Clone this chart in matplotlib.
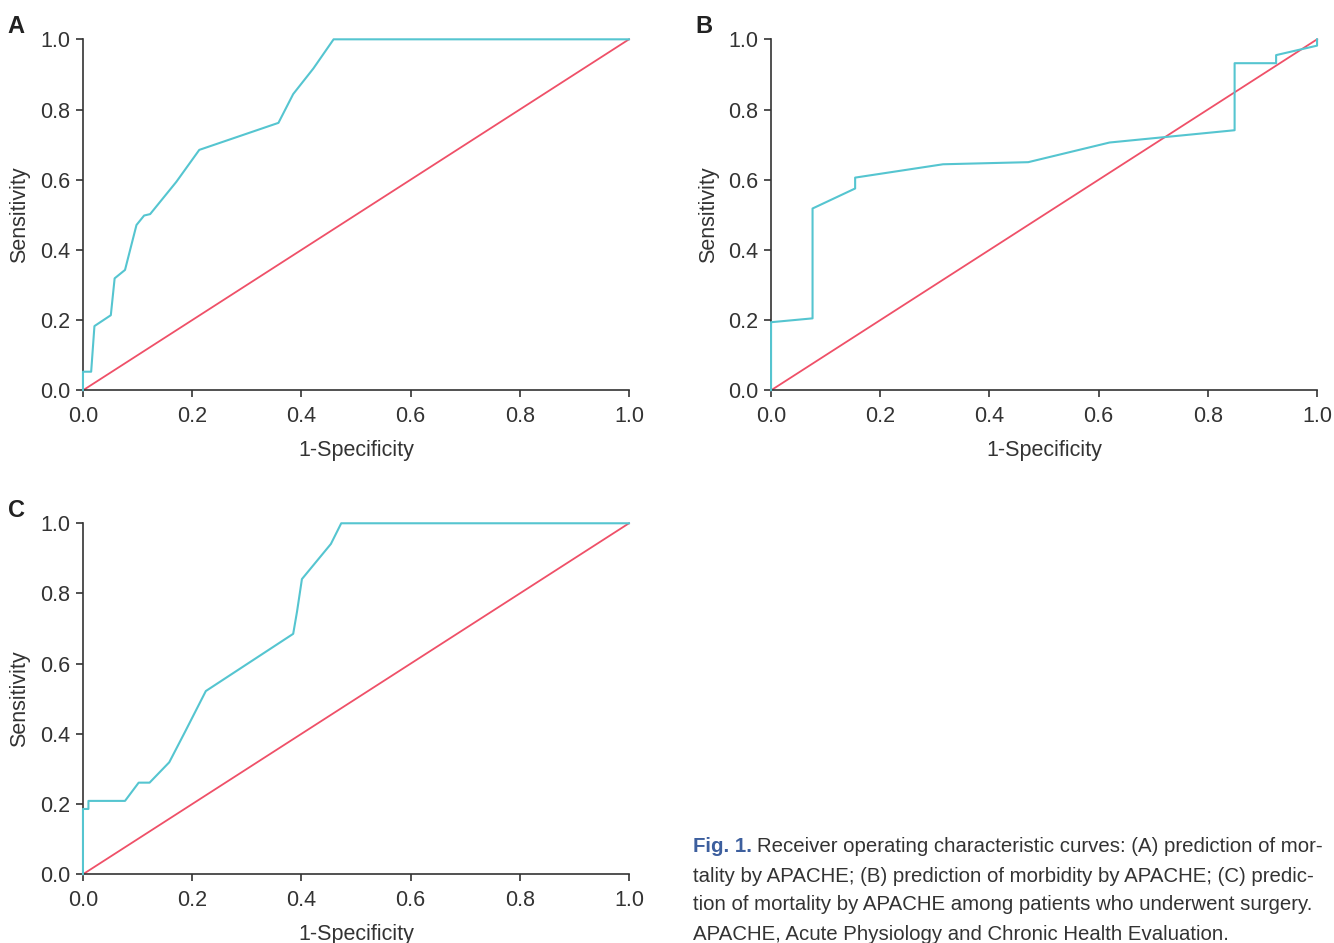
import numpy as np
import matplotlib.pyplot as plt

plt.rcParams['font.family'] = ['Liberation Sans', 'DejaVu Sans']

# panel A: mortality by APACHE
fpr_a = [0.0, 0.0, 0.015, 0.021, 0.051, 0.058, 0.077, 0.098, 0.112, 0.123, 0.171, 0.213,
         0.358, 0.385, 0.422, 0.459, 1.0]
tpr_a = [0.0, 0.053, 0.053, 0.183, 0.214, 0.319, 0.343, 0.471, 0.498, 0.502, 0.594, 0.685,
         0.762, 0.844, 0.917, 1.0, 1.0]

# panel B: morbidity by APACHE
fpr_b = [0.0, 0.0, 0.076, 0.076, 0.154, 0.154, 0.315, 0.471, 0.620, 0.849, 0.849, 0.925,
         0.925, 1.0, 1.0]
tpr_b = [0.0, 0.194, 0.205, 0.518, 0.575, 0.606, 0.644, 0.650, 0.706, 0.741, 0.932, 0.932,
         0.955, 0.982, 1.0]

# panel C: mortality among surgery patients
fpr_c = [0.0, 0.0, 0.010, 0.010, 0.077, 0.102, 0.122, 0.158, 0.187, 0.225, 0.385, 0.392,
         0.401, 0.454, 0.473, 1.0]
tpr_c = [0.0, 0.186, 0.186, 0.209, 0.209, 0.261, 0.261, 0.319, 0.406, 0.522, 0.685, 0.748,
         0.841, 0.941, 1.0, 1.0]

ticks = [0.0, 0.2, 0.4, 0.6, 0.8, 1.0]
tick_labels = ['0.0', '0.2', '0.4', '0.6', '0.8', '1.0']

cyan = '#55c5d0'
red = '#ef5068'
dark = '#333333'

fig = plt.figure(figsize=(13.34, 9.43), dpi=100)

positions = {
    'A': [0.0622, 0.5861, 0.4093, 0.3722],
    'B': [0.5780, 0.5861, 0.4093, 0.3722],
    'C': [0.0622, 0.0729, 0.4093, 0.3722],
}
curves = {'A': (fpr_a, tpr_a), 'B': (fpr_b, tpr_b), 'C': (fpr_c, tpr_c)}

for key in ['A', 'B', 'C']:
    ax = fig.add_axes(positions[key])
    fx, ty = curves[key]
    ax.plot([0, 1], [0, 1], color=red, lw=1.3, clip_on=False, zorder=2)
    ax.plot(fx, ty, color=cyan, lw=1.5, clip_on=False, zorder=3)
    ax.set_xlim(0, 1)
    ax.set_ylim(0, 1)
    ax.set_xticks(ticks)
    ax.set_xticklabels(tick_labels)
    ax.set_yticks(ticks)
    ax.set_yticklabels(tick_labels)
    for s in ['top', 'right']:
        ax.spines[s].set_visible(False)
    for s in ['left', 'bottom']:
        ax.spines[s].set_color(dark)
        ax.spines[s].set_linewidth(1.2)
    ax.tick_params(direction='out', length=5, width=1.2, color=dark, labelcolor=dark,
                   labelsize=15.5, pad=4)
    ax.tick_params(axis='x', pad=6)
    ax.set_xlabel('1-Specificity', fontsize=15.5, color=dark, labelpad=10)
    ax.set_ylabel('Sensitivity', fontsize=15.5, color=dark, labelpad=7)
    pos = positions[key]
    # panel letter sits a few pixels above the top of the y axis
    fig.text(pos[0] - 0.0565, pos[1] + pos[3] + 0.0068, key, fontsize=17,
             fontweight='bold', color='#222222', va='baseline', ha='left')

# caption
x0 = 693 / 1334
lines = ['Receiver operating characteristic curves: (A) prediction of mor-',
         'tality by APACHE; (B) prediction of morbidity by APACHE; (C) predic-',
         'tion of mortality by APACHE among patients who underwent surgery.',
         'APACHE, Acute Physiology and Chronic Health Evaluation.']
t = fig.text(x0, 1 - 847 / 943, 'Fig. 1.', fontsize=14.7, fontweight='bold',
             color='#3d5f9e', va='center', ha='left')
fig.canvas.draw()
bb = t.get_window_extent()
x1 = (bb.x1 + 5) / 1334
fig.text(x1, 1 - 847 / 943, lines[0], fontsize=14.7, color='#333333',
         va='center', ha='left')
for i, ln in enumerate(lines[1:]):
    fig.text(x0, 1 - (876 + 29 * i) / 943, ln, fontsize=14.7, color='#333333',
             va='center', ha='left')

fig.savefig('out.png', dpi=100)
